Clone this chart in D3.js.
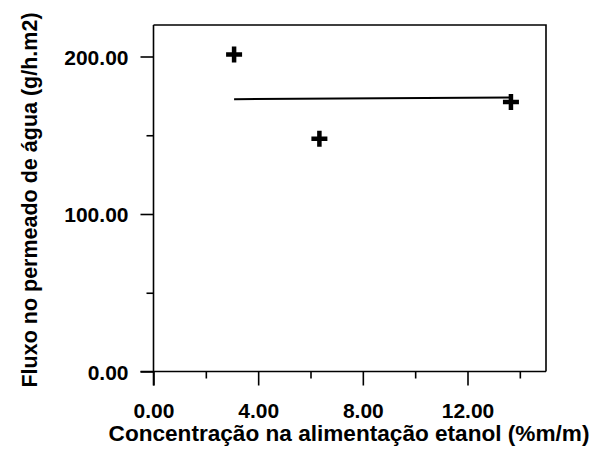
<!DOCTYPE html>
<meta charset="utf-8">
<style>
    body { margin:0; background:#fff; }
    text { font-family:'Liberation Sans', Arial, sans-serif; font-weight:bold; fill:#000; }
</style>
<body>
<script src="https://d3js.org/d3.v7.min.js"></script>
<script>
// measured points
var concEtanol = [3.08, 6.34, 13.66];
var fluxoAgua = [201.3, 147.8, 171.1];
// fitted line (mean)
var fitX = [3.08, 13.66];
var fitY = [172.9, 173.9];
var xMajor = [0, 4, 8, 12];
var xMinor = [2, 6, 10, 14];
var yMajor = [0, 100, 200];
var yMinor = [50, 150];
var xTitle = "Concentração na alimentação etanol (%m/m)";
var yTitle = "Fluxo no permeado de água (g/h.m2)";

var width = 597, height = 451;
var mLeft = 153.5, mRight = 546, mTop = 25, mBottom = 371.5;

var svg = d3.select("body").append("svg")
    .attr("width", width)
    .attr("height", height);

var x = d3.scaleLinear().domain([0, 15]).range([mLeft, mRight]);
var y = d3.scaleLinear().domain([0, 220]).range([mBottom, mTop]);

// frame top + right
svg.append("path")
    .attr("d", "M" + mLeft + "," + mTop + "H" + mRight + "V" + mBottom)
    .attr("fill", "none")
    .attr("stroke", "#000")
    .attr("stroke-width", 1.6);

function styleAxis(g) {
    g.select(".domain").remove();
    g.selectAll("line").attr("stroke", "#000").attr("stroke-width", 1.6);
}

// y axis
svg.append("g")
    .attr("transform", "translate(" + mLeft + ",0)")
    .call(d3.axisLeft(y).tickValues(yMinor).tickSize(7).tickFormat(""))
    .call(styleAxis);
var gy = svg.append("g")
    .attr("transform", "translate(" + mLeft + ",0)")
    .call(d3.axisLeft(y).tickValues(yMajor).tickSize(13).tickPadding(12)
        .tickFormat(d3.format(".2f")))
    .call(styleAxis);
gy.selectAll("text").attr("font-size", 21).attr("font-family", null).attr("dy", "0.36em");

// x axis
svg.append("g")
    .attr("transform", "translate(0," + mBottom + ")")
    .call(d3.axisBottom(x).tickValues(xMinor).tickSize(7).tickFormat(""))
    .call(styleAxis);
var gx = svg.append("g")
    .attr("transform", "translate(0," + mBottom + ")")
    .call(d3.axisBottom(x).tickValues(xMajor).tickSize(14)
        .tickFormat(d3.format(".2f")))
    .call(styleAxis);
gx.selectAll("text").attr("font-size", 21).attr("font-family", null).attr("y", 46).attr("dy", 0);

// axis lines (extend past the corner)
svg.append("line")
    .attr("x1", mLeft).attr("x2", mLeft)
    .attr("y1", mTop).attr("y2", y(0) + 14)
    .attr("stroke", "#000").attr("stroke-width", 1.6);
svg.append("line")
    .attr("x1", mLeft - 13).attr("x2", mRight)
    .attr("y1", mBottom).attr("y2", mBottom)
    .attr("stroke", "#000").attr("stroke-width", 1.6);

// fit line
svg.append("path")
    .datum(d3.zip(fitX, fitY))
    .attr("d", d3.line().x(function(d) { return x(d[0]); }).y(function(d) { return y(d[1]); }))
    .attr("fill", "none")
    .attr("stroke", "#000")
    .attr("stroke-width", 2);

// plus markers
svg.selectAll(".pt")
    .data(d3.zip(concEtanol, fluxoAgua))
    .enter().append("path")
    .attr("class", "pt")
    .attr("transform", function(d) { return "translate(" + x(d[0]) + "," + y(d[1]) + ")"; })
    .attr("d", "M-8,0H8M0,-8V8")
    .attr("stroke", "#000")
    .attr("stroke-width", 4.5);

// titles
svg.append("text")
    .attr("x", 349).attr("y", 441)
    .attr("text-anchor", "middle")
    .attr("font-size", 22.6)
    .text(xTitle);
svg.append("text")
    .attr("transform", "translate(37,200) rotate(-90)")
    .attr("text-anchor", "middle")
    .attr("font-size", 21.5)
    .text(yTitle);
</script>
</body>
